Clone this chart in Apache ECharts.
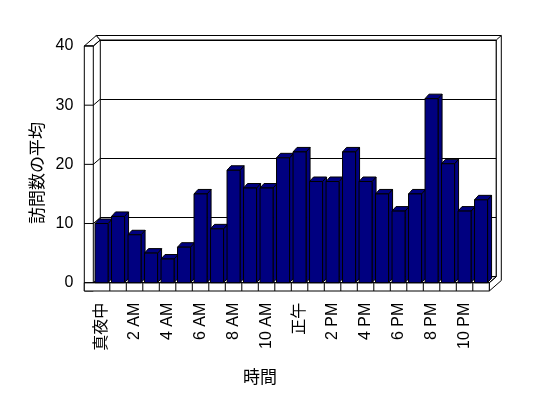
<!DOCTYPE html>
<html>
<head>
<meta charset="utf-8">
<script src="https://cdn.jsdelivr.net/npm/echarts@6/dist/echarts.min.js"></script>
<style>
html, body { margin: 0; padding: 0; background: #fff; }
#main { width: 548px; height: 398px; }
</style>
</head>
<body>
<div id="main"></div>
<script>
// 時間ごとの訪問数
var hours = ['真夜中', '1 AM', '2 AM', '3 AM', '4 AM', '5 AM', '6 AM', '7 AM', '8 AM', '9 AM', '10 AM', '11 AM',
             '正午', '1 PM', '2 PM', '3 PM', '4 PM', '5 PM', '6 PM', '7 PM', '8 PM', '9 PM', '10 PM', '11 PM'];
var visits = [10, 11.2, 8.1, 5, 4, 6, 15, 9.1, 19, 16, 16, 21.1,
              22.1, 17.1, 17.1, 22.1, 17.1, 15, 12.1, 15, 31.1, 20.1, 12.1, 14];
var yTicks = [0, 10, 20, 30, 40];

var chart = echarts.init(document.getElementById('main'));

// front plane / depth offsets
var L = 93.3, R = 489.3, T = 46, B = 282.7;
var D = [7, -6];        // plot depth
var O = [12, -10.5];    // outer wall edge
var FLOOR = 8.3, WALL = 9;

var barData = [];
for (var i = 0; i < visits.length; i++) {
    barData.push([i, visits[i]]);
}

function renderBar(params, api) {
    var top = api.coord([api.value(0), api.value(1)]);
    var base = api.coord([api.value(0), 0]);
    var w = api.size([1, 0])[0] * 0.79;
    var l = top[0] - w / 2, r = top[0] + w / 2;
    var dx = 4, dy = -4.5;
    var st = { fill: '#000080', stroke: '#000', lineWidth: 1 };
    return {
        type: 'group',
        children: [
            { type: 'polygon', shape: { points: [[r, top[1]], [r + dx, top[1] + dy], [r + dx, base[1] + dy], [r, base[1]]] }, style: st },
            { type: 'polygon', shape: { points: [[l, top[1]], [l + dx, top[1] + dy], [r + dx, top[1] + dy], [r, top[1]]] }, style: st },
            { type: 'rect', shape: { x: l, y: top[1], width: w, height: base[1] - top[1] }, style: st }
        ]
    };
}

var font = 'Liberation Sans, Noto Sans CJK JP, sans-serif';

option = {
    animation: false,
    grid: [
        { left: L, right: 548 - R, top: T, bottom: 398 - B },
        { left: L + D[0], right: 548 - R - D[0], top: T + D[1], bottom: 398 - B - D[1],
          show: true, borderColor: '#000', borderWidth: 1, backgroundColor: '#fff' }
    ],
    xAxis: [
        {
            type: 'category', gridIndex: 0, data: hours,
            axisLine: { show: false }, axisTick: { show: false },
            axisLabel: { interval: 1, rotate: 90, margin: 20, fontSize: 16, color: '#000', fontFamily: font }
        },
        { type: 'category', gridIndex: 1, data: hours, show: false }
    ],
    yAxis: [
        {
            type: 'value', gridIndex: 0, min: 0, max: 40, interval: 10,
            axisLine: { show: false }, axisTick: { show: false }, splitLine: { show: false },
            axisLabel: { margin: 20, fontSize: 16, color: '#000', fontFamily: font }
        },
        {
            type: 'value', gridIndex: 1, min: 0, max: 40, interval: 10,
            axisLine: { show: false }, axisTick: { show: false }, axisLabel: { show: false },
            splitLine: { show: true, lineStyle: { color: '#000', width: 1 } }
        }
    ],
    series: [{
        name: '訪問数の平均',
        type: 'custom',
        xAxisIndex: 0, yAxisIndex: 0,
        renderItem: renderBar,
        data: barData,
        z: 5
    }]
};
chart.setOption(option);

// walls and floor
var line = { stroke: '#000', lineWidth: 1, fill: null };
var wallFill = { stroke: '#000', lineWidth: 1, fill: '#fff' };
var g = [];
// left wall top and front face
g.push({ type: 'polygon', shape: { points: [[L - WALL, T], [L, T], [L + D[0], T + D[1]], [L - WALL + O[0], T + O[1]]] }, style: wallFill, z: 1 });
g.push({ type: 'rect', shape: { x: L - WALL, y: T, width: WALL, height: B + FLOOR - T }, style: wallFill, z: 1 });
// back wall top / right thickness
g.push({ type: 'polygon', shape: { points: [[L - WALL + O[0], T + O[1]], [R + O[0], T + O[1]], [R + O[0], B + FLOOR + O[1]], [R, B + FLOOR], [R, B], [R + D[0], B + D[1]], [R + D[0], T + D[1]], [L + D[0], T + D[1]]] }, style: wallFill, z: 1 });
g.push({ type: 'polyline', shape: { points: [[R + D[0], T + D[1]], [R + O[0], T + O[1]]] }, style: line, z: 1 });
// floor front face
g.push({ type: 'rect', shape: { x: L - WALL, y: B, width: R - L + WALL, height: FLOOR }, style: wallFill, z: 1 });
var step = (R - L) / hours.length;
for (var k = 1; k < hours.length; k++) {
    var xk = L + k * step;
    g.push({ type: 'polyline', shape: { points: [[xk, B], [xk, B + FLOOR]] }, style: line, z: 1 });
}
// floor top-right edge
g.push({ type: 'polyline', shape: { points: [[L, B], [R, B], [R + D[0], B + D[1]]] }, style: line, z: 1 });
// value ticks across left wall
for (var j = 0; j < yTicks.length; j++) {
    var yy = chart.convertToPixel({ yAxisIndex: 0 }, yTicks[j]);
    g.push({ type: 'polyline', shape: { points: [[L - WALL, yy], [L, yy], [L + D[0], yy + D[1]]] }, style: line, z: 1 });
}
// axis titles
g.push({ type: 'text', x: 37, y: 173, rotation: Math.PI / 2,
         style: { text: '訪問数の平均', font: '17px Noto Sans CJK JP', fill: '#000', align: 'center', verticalAlign: 'middle' } });
g.push({ type: 'text', x: 260, y: 377,
         style: { text: '時間', font: '17px Noto Sans CJK JP', fill: '#000', align: 'center', verticalAlign: 'middle' } });

chart.setOption({ graphic: g });
</script>
</body>
</html>
